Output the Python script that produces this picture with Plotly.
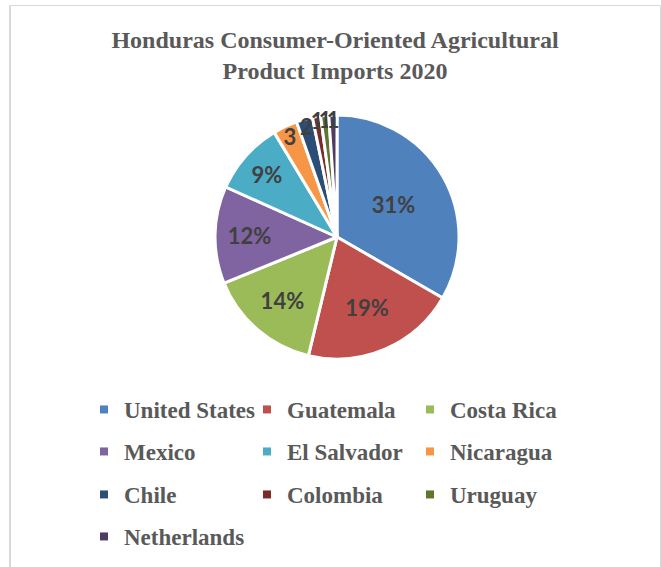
import plotly.graph_objects as go

# 数据
countries = ["United States", "Guatemala", "Costa Rica", "Mexico", "El Salvador",
             "Nicaragua", "Chile", "Colombia", "Uruguay", "Netherlands"]
shares = [31, 19, 14, 12, 9, 3, 2, 1, 1, 1]
slice_labels = ["31%", "19%", "14%", "12%", "9%", "3", "2", "1", "1", "1"]
colors = ["#4F81BD", "#C0504D", "#9BBB59", "#8064A2", "#4BACC6",
          "#F79646", "#2C4D75", "#772C2A", "#5F7530", "#4D3B62"]

W, H = 661, 567
FONT_SERIF = "Liberation Serif, Times New Roman, serif"
GREY = "#595959"

fig = go.Figure()

# 饼图
fig.add_trace(go.Pie(
    labels=countries, values=shares, text=slice_labels,
    textinfo="text", textposition="inside",
    insidetextorientation="horizontal",
    sort=False, direction="clockwise", rotation=0,
    marker=dict(colors=colors, line=dict(color="white", width=3)),
    textfont=dict(family="Lato, Open Sans, sans-serif", size=22, color="#404040", weight="bold"),
    domain=dict(x=[215 / W, 459 / W], y=[1 - 359 / H, 1 - 115 / H]),
    showlegend=False, hoverinfo="label+value",
))

# 图例：用散点占位，4 行各一个 legend
legend_names = ["legend", "legend2", "legend3", "legend4"]
for i, (name, color) in enumerate(zip(countries, colors)):
    fig.add_trace(go.Scatter(
        x=[None], y=[None], mode="markers", name=name,
        marker=dict(symbol="square", size=8, color=color),
        legend=legend_names[i // 3],
    ))

row_tops = [388, 430, 473, 515]
legend_style = dict(
    orientation="h", xanchor="left", yanchor="top",
    font=dict(family=FONT_SERIF, size=23, color=GREY, weight="bold"),
    entrywidthmode="pixels", itemwidth=30,
    bgcolor="rgba(0,0,0,0)",
)
legends = {}
for i, key in enumerate(legend_names):
    legends[key] = dict(x=84 / W, y=1 - row_tops[i] / H,
                        entrywidth=118 if i < 3 else 0, **legend_style)

fig.update_layout(
    width=W, height=H,
    margin=dict(l=0, r=0, t=0, b=0),
    paper_bgcolor="white", plot_bgcolor="white",
    title=dict(
        text="Honduras Consumer-Oriented Agricultural<br>Product Imports 2020",
        x=335 / W, xanchor="center", y=1 - 48 / H, yanchor="top",
        font=dict(family=FONT_SERIF, size=24, color=GREY, weight="bold"),
    ),
    xaxis=dict(visible=False), yaxis=dict(visible=False),
    uniformtext=dict(minsize=20, mode="show"),
    **legends,
)

# 外边框
fig.add_shape(type="line", xref="paper", yref="paper",
              x0=10 / W, x1=10 / W, y0=-0.05, y1=1 - 5.5 / H,
              line=dict(color="#d9d9d9", width=2))
fig.add_shape(type="line", xref="paper", yref="paper",
              x0=10 / W, x1=660 / W, y0=1 - 5.5 / H, y1=1 - 5.5 / H,
              line=dict(color="#d9d9d9", width=1))
fig.add_shape(type="line", xref="paper", yref="paper",
              x0=660.5 / W, x1=660.5 / W, y0=-0.05, y1=1 - 5.5 / H,
              line=dict(color="#d9d9d9", width=1))

fig.write_html("out.html", config={"displayModeBar": False},
               post_script="document.body.style.margin='0';")
